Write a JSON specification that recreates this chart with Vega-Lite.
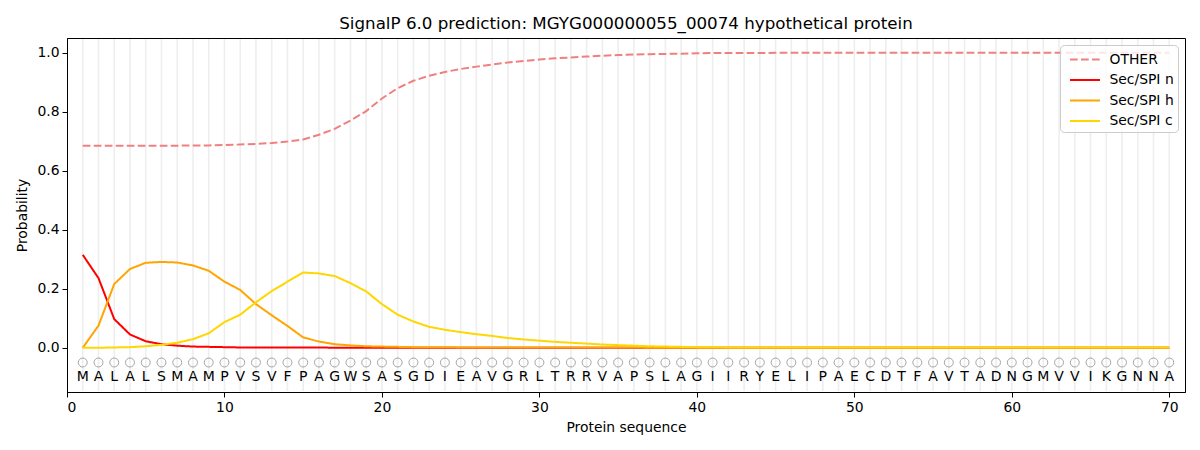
{
  "$schema": "https://vega.github.io/schema/vega-lite/v6.json",
  "description": "SignalP 6.0 prediction per residue",
  "autosize": {"type": "none"},
  "padding": {"left": 67, "top": 38, "right": 15, "bottom": 58},
  "width": 1118,
  "height": 354,
  "title": {
    "text": "SignalP 6.0 prediction: MGYG000000055_00074 hypothetical protein",
    "fontSize": 16.7,
    "fontWeight": "normal",
    "font": "DejaVu Sans",
    "color": "black",
    "anchor": "middle",
    "offset": 5
  },
  "data": {
    "values": [
      {"pos": 1, "aa": "M", "other": 0.685, "n": 0.315, "h": 0.000, "c": 0.000},
      {"pos": 2, "aa": "A", "other": 0.685, "n": 0.236, "h": 0.075, "c": 0.000},
      {"pos": 3, "aa": "L", "other": 0.685, "n": 0.097, "h": 0.216, "c": 0.001},
      {"pos": 4, "aa": "A", "other": 0.685, "n": 0.045, "h": 0.267, "c": 0.002},
      {"pos": 5, "aa": "L", "other": 0.685, "n": 0.022, "h": 0.288, "c": 0.005},
      {"pos": 6, "aa": "S", "other": 0.685, "n": 0.012, "h": 0.291, "c": 0.010},
      {"pos": 7, "aa": "M", "other": 0.685, "n": 0.007, "h": 0.289, "c": 0.017},
      {"pos": 8, "aa": "A", "other": 0.686, "n": 0.004, "h": 0.279, "c": 0.029},
      {"pos": 9, "aa": "M", "other": 0.686, "n": 0.003, "h": 0.261, "c": 0.049},
      {"pos": 10, "aa": "P", "other": 0.687, "n": 0.002, "h": 0.224, "c": 0.087},
      {"pos": 11, "aa": "V", "other": 0.689, "n": 0.001, "h": 0.196, "c": 0.112},
      {"pos": 12, "aa": "S", "other": 0.691, "n": 0.001, "h": 0.148, "c": 0.154},
      {"pos": 13, "aa": "V", "other": 0.694, "n": 0.001, "h": 0.110, "c": 0.192},
      {"pos": 14, "aa": "F", "other": 0.699, "n": 0.001, "h": 0.074, "c": 0.224},
      {"pos": 15, "aa": "P", "other": 0.706, "n": 0.001, "h": 0.035, "c": 0.255},
      {"pos": 16, "aa": "A", "other": 0.722, "n": 0.001, "h": 0.021, "c": 0.252},
      {"pos": 17, "aa": "G", "other": 0.742, "n": 0.000, "h": 0.012, "c": 0.243},
      {"pos": 18, "aa": "W", "other": 0.770, "n": 0.000, "h": 0.008, "c": 0.219},
      {"pos": 19, "aa": "S", "other": 0.802, "n": 0.000, "h": 0.005, "c": 0.191},
      {"pos": 20, "aa": "A", "other": 0.845, "n": 0.000, "h": 0.004, "c": 0.148},
      {"pos": 21, "aa": "S", "other": 0.880, "n": 0.000, "h": 0.003, "c": 0.112},
      {"pos": 22, "aa": "G", "other": 0.905, "n": 0.000, "h": 0.002, "c": 0.089},
      {"pos": 23, "aa": "D", "other": 0.922, "n": 0.000, "h": 0.002, "c": 0.071},
      {"pos": 24, "aa": "I", "other": 0.935, "n": 0.000, "h": 0.002, "c": 0.061},
      {"pos": 25, "aa": "E", "other": 0.945, "n": 0.000, "h": 0.001, "c": 0.053},
      {"pos": 26, "aa": "A", "other": 0.953, "n": 0.000, "h": 0.001, "c": 0.046},
      {"pos": 27, "aa": "V", "other": 0.960, "n": 0.000, "h": 0.001, "c": 0.040},
      {"pos": 28, "aa": "G", "other": 0.967, "n": 0.000, "h": 0.001, "c": 0.033},
      {"pos": 29, "aa": "R", "other": 0.972, "n": 0.000, "h": 0.001, "c": 0.028},
      {"pos": 30, "aa": "L", "other": 0.977, "n": 0.000, "h": 0.001, "c": 0.024},
      {"pos": 31, "aa": "T", "other": 0.981, "n": 0.000, "h": 0.001, "c": 0.020},
      {"pos": 32, "aa": "R", "other": 0.984, "n": 0.000, "h": 0.001, "c": 0.017},
      {"pos": 33, "aa": "R", "other": 0.987, "n": 0.000, "h": 0.001, "c": 0.014},
      {"pos": 34, "aa": "V", "other": 0.990, "n": 0.000, "h": 0.001, "c": 0.011},
      {"pos": 35, "aa": "A", "other": 0.992, "n": 0.000, "h": 0.001, "c": 0.009},
      {"pos": 36, "aa": "P", "other": 0.994, "n": 0.000, "h": 0.001, "c": 0.007},
      {"pos": 37, "aa": "S", "other": 0.995, "n": 0.000, "h": 0.000, "c": 0.005},
      {"pos": 38, "aa": "L", "other": 0.996, "n": 0.000, "h": 0.000, "c": 0.004},
      {"pos": 39, "aa": "A", "other": 0.997, "n": 0.000, "h": 0.000, "c": 0.003},
      {"pos": 40, "aa": "G", "other": 0.998, "n": 0.000, "h": 0.000, "c": 0.002},
      {"pos": 41, "aa": "I", "other": 0.999, "n": 0.000, "h": 0.000, "c": 0.002},
      {"pos": 42, "aa": "I", "other": 0.999, "n": 0.000, "h": 0.000, "c": 0.001},
      {"pos": 43, "aa": "R", "other": 0.999, "n": 0.000, "h": 0.000, "c": 0.001},
      {"pos": 44, "aa": "Y", "other": 0.999, "n": 0.000, "h": 0.000, "c": 0.001},
      {"pos": 45, "aa": "E", "other": 1.000, "n": 0.000, "h": 0.000, "c": 0.001},
      {"pos": 46, "aa": "L", "other": 1.000, "n": 0.000, "h": 0.000, "c": 0.001},
      {"pos": 47, "aa": "I", "other": 1.000, "n": 0.000, "h": 0.000, "c": 0.001},
      {"pos": 48, "aa": "P", "other": 1.000, "n": 0.000, "h": 0.000, "c": 0.001},
      {"pos": 49, "aa": "A", "other": 1.000, "n": 0.000, "h": 0.000, "c": 0.001},
      {"pos": 50, "aa": "E", "other": 1.000, "n": 0.000, "h": 0.000, "c": 0.001},
      {"pos": 51, "aa": "C", "other": 1.000, "n": 0.000, "h": 0.000, "c": 0.001},
      {"pos": 52, "aa": "D", "other": 1.000, "n": 0.000, "h": 0.000, "c": 0.001},
      {"pos": 53, "aa": "T", "other": 1.000, "n": 0.000, "h": 0.000, "c": 0.001},
      {"pos": 54, "aa": "F", "other": 1.000, "n": 0.000, "h": 0.000, "c": 0.001},
      {"pos": 55, "aa": "A", "other": 1.000, "n": 0.000, "h": 0.000, "c": 0.001},
      {"pos": 56, "aa": "V", "other": 1.000, "n": 0.000, "h": 0.000, "c": 0.001},
      {"pos": 57, "aa": "T", "other": 1.000, "n": 0.000, "h": 0.000, "c": 0.001},
      {"pos": 58, "aa": "A", "other": 1.000, "n": 0.000, "h": 0.000, "c": 0.001},
      {"pos": 59, "aa": "D", "other": 1.000, "n": 0.000, "h": 0.000, "c": 0.001},
      {"pos": 60, "aa": "N", "other": 1.000, "n": 0.000, "h": 0.000, "c": 0.001},
      {"pos": 61, "aa": "G", "other": 1.000, "n": 0.000, "h": 0.000, "c": 0.001},
      {"pos": 62, "aa": "M", "other": 1.000, "n": 0.000, "h": 0.000, "c": 0.001},
      {"pos": 63, "aa": "V", "other": 1.000, "n": 0.000, "h": 0.000, "c": 0.001},
      {"pos": 64, "aa": "V", "other": 1.000, "n": 0.000, "h": 0.000, "c": 0.001},
      {"pos": 65, "aa": "I", "other": 1.000, "n": 0.000, "h": 0.000, "c": 0.001},
      {"pos": 66, "aa": "K", "other": 1.000, "n": 0.000, "h": 0.000, "c": 0.001},
      {"pos": 67, "aa": "G", "other": 1.000, "n": 0.000, "h": 0.000, "c": 0.001},
      {"pos": 68, "aa": "N", "other": 1.000, "n": 0.000, "h": 0.000, "c": 0.001},
      {"pos": 69, "aa": "N", "other": 1.000, "n": 0.000, "h": 0.000, "c": 0.001},
      {"pos": 70, "aa": "A", "other": 1.000, "n": 0.000, "h": 0.000, "c": 0.001}
    ]
  },
  "encoding": {
    "x": {
      "field": "pos",
      "type": "quantitative",
      "title": "Protein sequence",
      "scale": {"domain": [0, 71], "nice": false, "zero": false},
      "axis": {"values": [0, 10, 20, 30, 40, 50, 60, 70], "format": "d"}
    }
  },
  "layer": [
    {
      "mark": {"type": "rule", "color": "#eeeeee", "strokeWidth": 1.6},
      "encoding": {
        "y": {"datum": 1.047, "type": "quantitative"},
        "y2": {"datum": -0.147}
      }
    },
    {
      "transform": [{"fold": ["other", "n", "h", "c"], "as": ["series", "prob"]}],
      "mark": {"type": "line", "strokeWidth": 2},
      "encoding": {
        "y": {
          "field": "prob",
          "type": "quantitative",
          "title": "Probability",
          "scale": {"domain": [-0.15, 1.05], "nice": false, "zero": false},
          "axis": {"values": [0, 0.2, 0.4, 0.6, 0.8, 1.0], "format": ".1f"}
        },
        "color": {
          "field": "series",
          "type": "nominal",
          "title": null,
          "scale": {
            "domain": ["other", "n", "h", "c"],
            "range": ["#f08080", "#ff0000", "#ffa500", "#ffd700"]
          },
          "legend": {
            "labelExpr": "datum.label == 'other' ? 'OTHER' : 'Sec/SPI ' + datum.label"
          }
        },
        "strokeDash": {
          "field": "series",
          "type": "nominal",
          "title": null,
          "scale": {
            "domain": ["other", "n", "h", "c"],
            "range": [[7.7, 3.3], [1, 0], [1, 0], [1, 0]]
          },
          "legend": {
            "labelExpr": "datum.label == 'other' ? 'OTHER' : 'Sec/SPI ' + datum.label"
          }
        }
      }
    },
    {
      "mark": {"type": "point", "shape": "circle", "filled": false, "stroke": "#808080", "strokeWidth": 1, "size": 80},
      "encoding": {
        "y": {"datum": -0.05, "type": "quantitative"}
      }
    },
    {
      "mark": {"type": "text", "fontSize": 14, "font": "DejaVu Sans", "color": "black", "baseline": "middle", "align": "center"},
      "encoding": {
        "y": {"datum": -0.1, "type": "quantitative"},
        "text": {"field": "aa", "type": "nominal"}
      }
    }
  ],
  "config": {
    "font": "DejaVu Sans",
    "view": {"stroke": "black", "strokeWidth": 1},
    "axis": {
      "grid": false,
      "domainColor": "black",
      "tickColor": "black",
      "tickSize": 5,
      "labelColor": "black",
      "labelFont": "DejaVu Sans",
      "labelFontSize": 13.9,
      "labelPadding": 3,
      "titleColor": "black",
      "titleFont": "DejaVu Sans",
      "titleFontSize": 13.9,
      "titleFontWeight": "normal",
      "titlePadding": 7
    },
    "legend": {
      "orient": "top-right",
      "offset": 7,
      "padding": 3.5,
      "fillColor": "rgba(255,255,255,0.8)",
      "strokeColor": "#cccccc",
      "cornerRadius": 4,
      "symbolType": "M-0.45,0H2.55",
      "symbolSize": 400,
      "symbolStrokeWidth": 2,
      "labelFont": "DejaVu Sans",
      "labelFontSize": 13.9,
      "labelColor": "black",
      "rowPadding": 2.5,
      "labelOffset": 24
    }
  }
}
